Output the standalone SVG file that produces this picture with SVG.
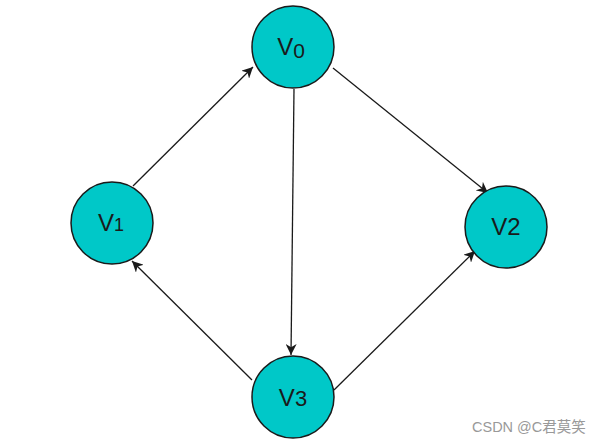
<svg xmlns="http://www.w3.org/2000/svg" width="606" height="445" viewBox="0 0 606 445">
<style>
.node circle{fill:#00C8C8;stroke:#1a1a1a;stroke-width:1.5}
.node text{font-family:"Liberation Sans",Arial,sans-serif;font-size:24px;fill:#1a1a1a;text-anchor:middle}
.edge{stroke:#1a1a1a;stroke-width:1.3;fill:none;marker-end:url(#arr)}
.wm{font-family:"Liberation Sans","Noto Sans CJK SC",sans-serif;font-size:14.5px;fill:#999}
</style>
<defs>
<marker id="arr" viewBox="0 0 10 10" refX="10" refY="5" markerWidth="11" markerHeight="11" markerUnits="userSpaceOnUse" orient="auto">
<path d="M0,0 L10,5 L0,10 L3,5 Z" fill="#1a1a1a"/>
</marker>
</defs>
<rect width="606" height="445" fill="#fff"/>
<g id="connectors">
<line class="edge" x1="133" y1="186" x2="253" y2="67"/>
<line class="edge" x1="294" y1="89" x2="291" y2="355"/>
<line class="edge" x1="333" y1="68" x2="488" y2="193"/>
<line class="edge" x1="252" y1="380" x2="132" y2="261"/>
<line class="edge" x1="334" y1="390" x2="475" y2="251"/>
</g>
<g id="V0" class="node"><circle cx="293" cy="47" r="41"/><text x="291" y="55">V<tspan font-size="21" dy="3">0</tspan></text></g>
<g id="V1" class="node"><circle cx="112" cy="223" r="41"/><text x="111" y="231">V<tspan font-size="18">1</tspan></text></g>
<g id="V2" class="node"><circle cx="506" cy="227" r="41"/><text x="506" y="235">V2</text></g>
<g id="V3" class="node"><circle cx="293" cy="397" r="41"/><text x="293" y="406">V<tspan font-size="22">3</tspan></text></g>
<text class="wm" x="472" y="432">CSDN @C君莫笑</text>
</svg>
